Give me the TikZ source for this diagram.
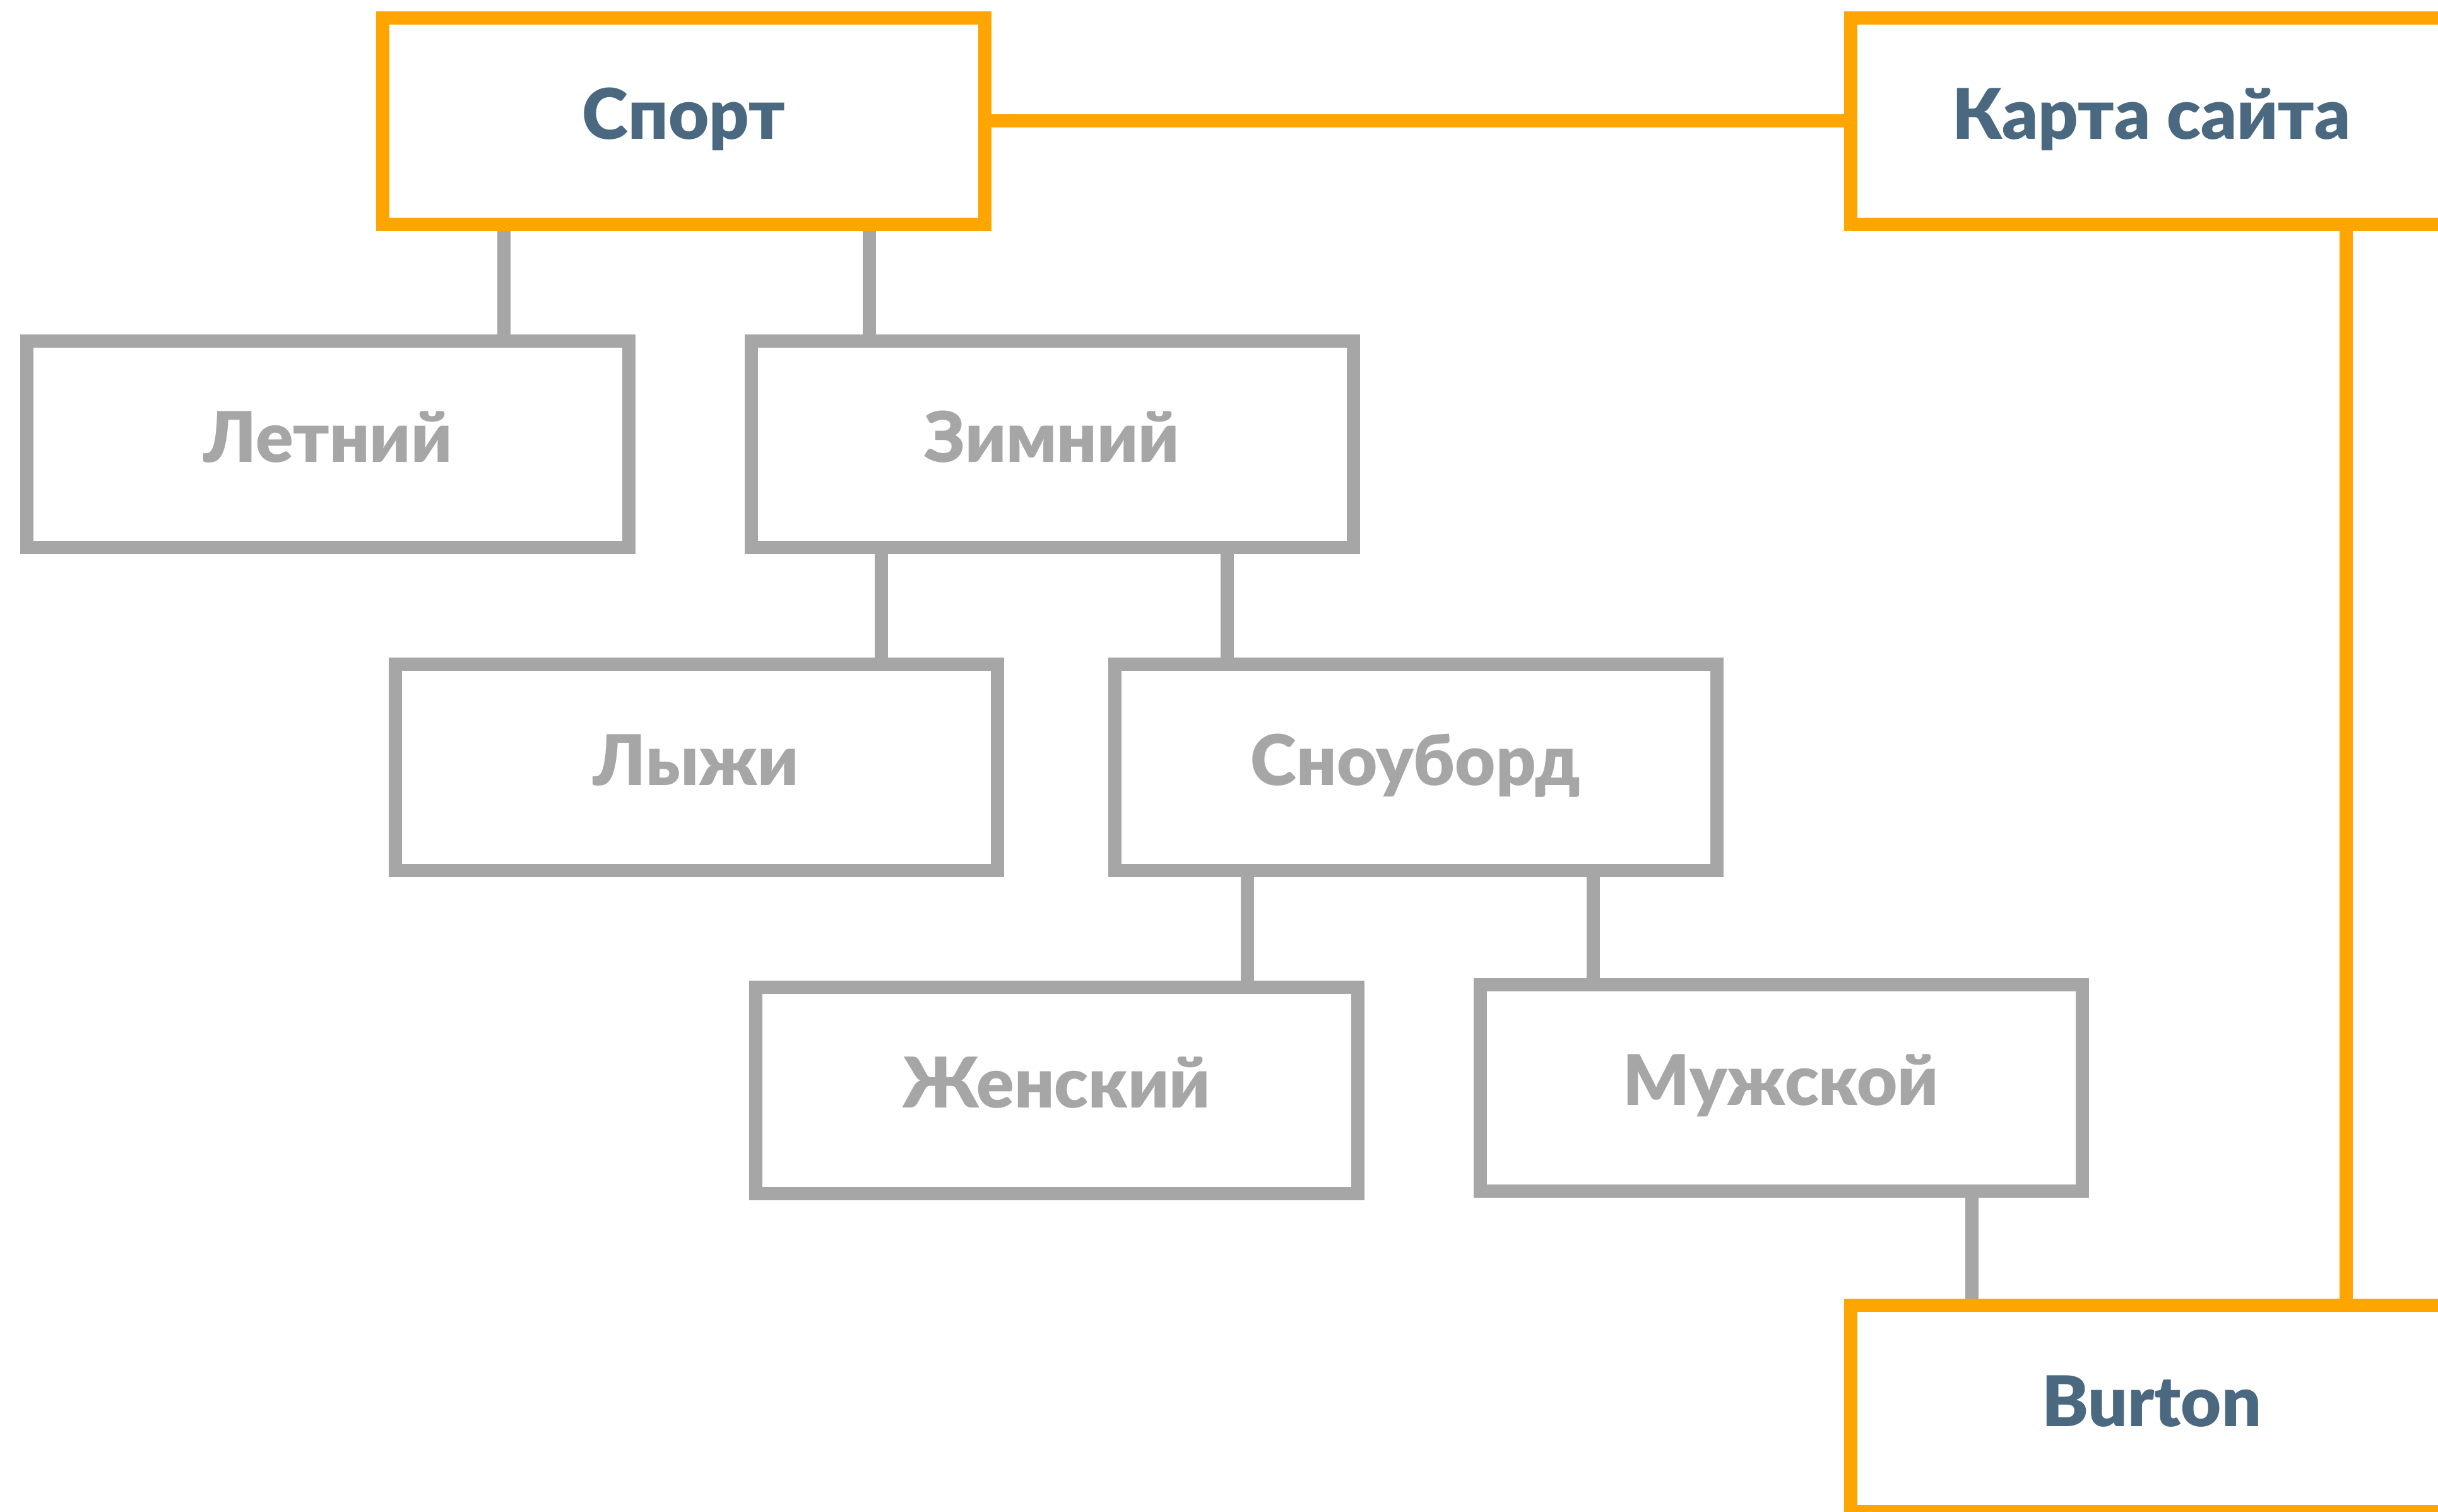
\documentclass[tikz,border=0pt]{standalone}
\usepackage{fontspec}
\setmainfont{Lato}[BoldFont={Lato Black}]
\definecolor{maporange}{HTML}{FFA500}
\definecolor{boxgray}{HTML}{A6A6A6}
\definecolor{textslate}{HTML}{4A6880}
\begin{document}
\begin{tikzpicture}[
        % 方框样式
        box/.style={draw, fill=white, line width=0.21cm,
            minimum width=9.54cm, minimum height=3.27cm, inner sep=0pt,
            text height=24pt, text depth=8pt,
            font=\fontsize{31.5}{38}\selectfont\bfseries},
        mainbox/.style={box, draw=maporange, text=textslate},
        subbox/.style={box, draw=boxgray, text=boxgray},
        % 连线样式
        link/.style={line width=0.21cm},
        mainlink/.style={link, maporange},
        sublink/.style={link, boxgray},
    ]
    \useasboundingbox (0,0) rectangle (38.63,23.95);

    % 方框
    \node[mainbox] (sport)   at (10.835,22.03) {Спорт};
    \node[mainbox] (sitemap) at (34.09,22.03)  {Карта сайта};
    \node[subbox]  (summer)  at (5.195,16.91)  {Летний};
    \node[subbox]  (winter)  at (16.67,16.91)  {Зимний};
    \node[subbox]  (ski)     at (11.03,11.79)  {Лыжи};
    \node[subbox]  (board)   at (22.43,11.79)  {Сноуборд};
    \node[subbox]  (women)   at (16.74,6.673)  {Женский};
    \node[subbox]  (men)     at (28.22,6.713)  {Мужской};
    \node[mainbox] (burton)  at (34.09,1.63)   {Burton};

    % 连线所在的竖直位置
    \coordinate (xSummer) at (7.985,0);
    \coordinate (xWinter) at (13.775,0);
    \coordinate (xSki)    at (13.965,0);
    \coordinate (xBoard)  at (19.44,0);
    \coordinate (xWomen)  at (19.765,0);
    \coordinate (xMen)    at (25.24,0);
    \coordinate (xBurton) at (31.24,0);
    \coordinate (xMap)    at (37.17,0);

    % 灰色连线
    \draw[sublink] (sport.south -| xSummer) -- (summer.north -| xSummer);
    \draw[sublink] (sport.south -| xWinter) -- (winter.north -| xWinter);
    \draw[sublink] (winter.south -| xSki) -- (ski.north -| xSki);
    \draw[sublink] (winter.south -| xBoard) -- (board.north -| xBoard);
    \draw[sublink] (board.south -| xWomen) -- (women.north -| xWomen);
    \draw[sublink] (board.south -| xMen) -- (men.north -| xMen);
    \draw[sublink] (men.south -| xBurton) -- (burton.north -| xBurton);

    % 橙色连线
    \draw[mainlink] (sport.east) -- (sitemap.west);
    \draw[mainlink] (sitemap.south -| xMap) -- (burton.north -| xMap);
\end{tikzpicture}
\end{document}
